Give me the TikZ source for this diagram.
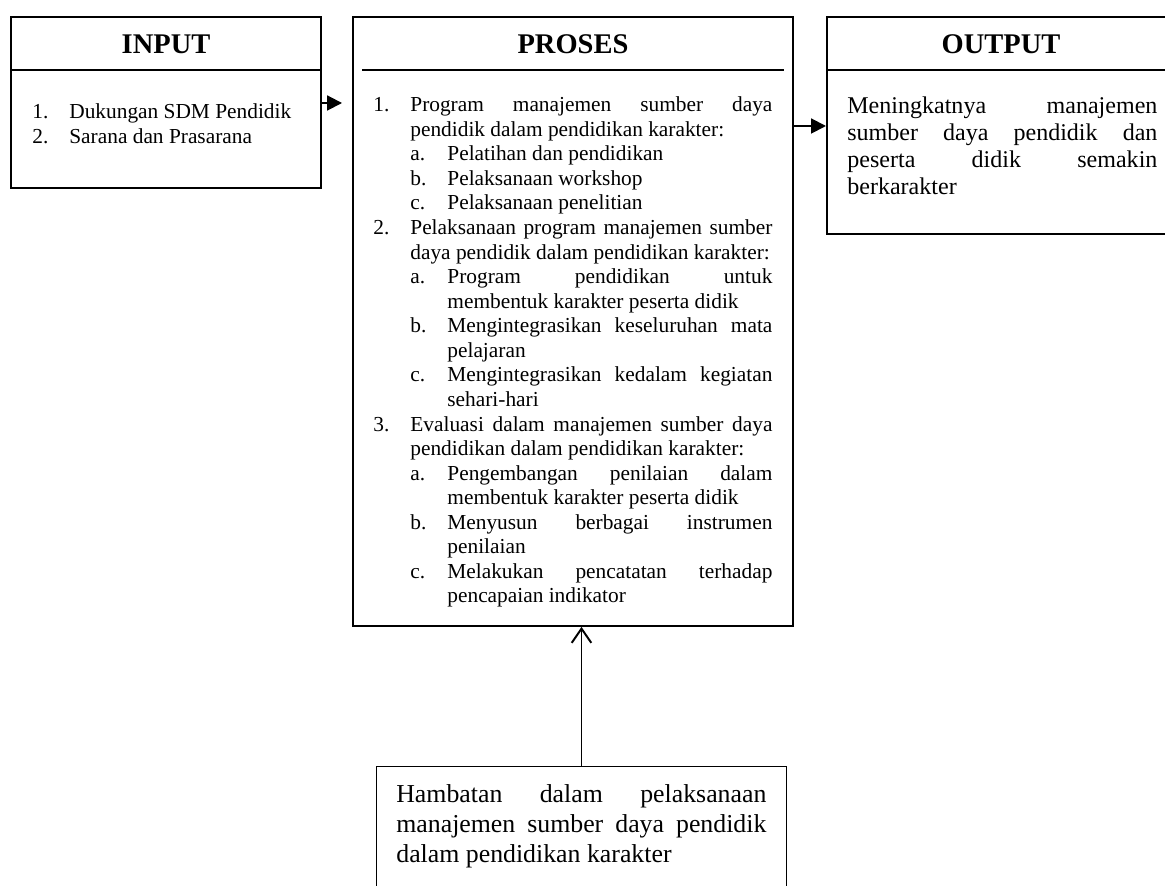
\documentclass[tikz,border=0pt]{standalone}
\usepackage{fontspec}
\setmainfont{Liberation Serif}
\usepackage{tikz}
\usetikzlibrary{calc,arrows.meta}
\newlength\labw
\setlength\labw{20.8pt}
\newcommand{\wordsetup}{\hyphenpenalty=10000\exhyphenpenalty=10000\tolerance=9999\parindent=0pt}
\newcommand{\listno}[2]{\par\noindent\hangindent=\labw\hangafter=1\makebox[\labw][l]{#1}\strut #2}
\newcommand{\listsub}[2]{\par\noindent\hangindent=2\labw\hangafter=1\hspace*{\labw}\makebox[\labw][l]{#1}\strut #2}
\tikzset{
	box/.style={draw,rectangle,line width=1.1pt,inner sep=0pt,anchor=north west},
	thinbox/.style={draw,rectangle,line width=0.6pt,inner sep=0pt,anchor=north west},
	title/.style={font=\fontsize{16}{19}\selectfont\bfseries,inner sep=0pt,anchor=base},
	body/.style={inner sep=0pt,anchor=north west,align=justify,font=\fontsize{12}{13.8}\selectfont\wordsetup},
	bigbody/.style={inner sep=0pt,anchor=north west,align=justify,font=\fontsize{13.5}{15.2}\selectfont\wordsetup},
	hugebody/.style={inner sep=0pt,anchor=north west,align=justify,font=\fontsize{14.5}{16.85}\selectfont\wordsetup},
	rule/.style={line width=1.1pt},
	flow/.style={line width=1.1pt,arrows={-Triangle[length=8.4pt,width=8.4pt]}},
	upflow/.style={line width=1.1pt,arrows={-Straight Barb[length=8pt,width=11pt]}}
}
\begin{document}
\begin{tikzpicture}[x=0.5618pt,y=-0.5618pt]
		\useasboundingbox (0,0) rectangle (1165,886);
		\node[box,minimum width=174.2pt,minimum height=96.1pt] (input) at (10,16) {};
		\node[box,minimum width=247.2pt,minimum height=342.1pt] (proses) at (352,16) {};
		\node[box,minimum width=195.5pt,minimum height=121.9pt] (output) at (826,16) {};
		\node[thinbox,minimum width=230.3pt,minimum height=78.7pt] (hambatan) at (376,766) {};
		
		\node[title] (inputtitle) at ($(input.north)+(0,38)$) {INPUT};
		\node[title] (prosestitle) at ($(proses.north)+(0,38)$) {PROSES};
		\node[title] (outputtitle) at ($(output.north)+(0,38)$) {OUTPUT};
		
		\draw[rule] ($(input.north west)+(0,54)$) -- ($(input.north east)+(0,54)$);
		\draw[rule] ($(proses.north west)+(10,54)$) -- ($(proses.north east)+(-10,54)$);
		\draw[rule] ($(output.north west)+(0,54)$) -- ($(output.north east)+(0,54)$);
		
		\node[body,text width=157.3pt] (inputlist) at ($(input.north west)+(22,77.8)$) {%
			\listno{1.}{Dukungan SDM Pendidik}
			\listno{2.}{Sarana dan Prasarana}\par};
		\node[body,text width=224.2pt] (proseslist) at ($(proses.north west)+(21,70.8)$) {%
			\listno{1.}{Program manajemen sumber daya pendidik dalam pendidikan karakter:}
			\listsub{a.}{Pelatihan dan pendidikan}
			\listsub{b.}{Pelaksanaan workshop}
			\listsub{c.}{Pelaksanaan penelitian}
			\listno{2.}{Pelaksanaan program manajemen sumber daya pendidik dalam pendidikan karakter:}
			\listsub{a.}{Program pendidikan untuk membentuk karakter peserta didik}
			\listsub{b.}{Mengintegrasikan keseluruhan mata pelajaran}
			\listsub{c.}{Mengintegrasikan kedalam kegiatan sehari-hari}
			\listno{3.}{Evaluasi dalam manajemen sumber daya pendidikan dalam pendidikan karakter:}
			\listsub{a.}{Pengembangan penilaian dalam membentuk karakter peserta didik}
			\listsub{b.}{Menyusun berbagai instrumen penilaian}
			\listsub{c.}{Melakukan pencatatan terhadap pencapaian indikator}\par};
		\node[bigbody,text width=174.2pt] (outputtext) at ($(output.north west)+(21,78.1)$) {%
			\strut Meningkatnya manajemen sumber daya pendidik dan\linebreak peserta didik semakin berkarakter\par};
		\node[hugebody,text width=207.9pt] (hambatantext) at ($(hambatan.north west)+(20,15)$) {%
			\strut Hambatan dalam pelaksanaan manajemen sumber daya pendidik dalam pendidikan karakter\par};
		
		\coordinate (inlevel) at (0,103);
		\coordinate (outlevel) at (0,126);
		\draw[flow,shorten >=5.6pt] (input.east |- inlevel) -- (proses.west |- inlevel);
		\draw[flow] (proses.east |- outlevel) -- (output.west |- outlevel);
		\draw[upflow] (hambatan.north) -- (hambatan.north |- proses.south);
\end{tikzpicture}
\end{document}
